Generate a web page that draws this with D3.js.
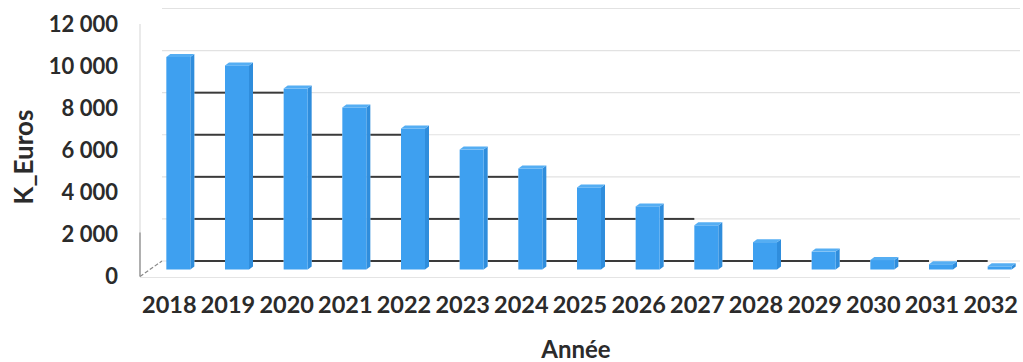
<!DOCTYPE html>
<html><head><meta charset="utf-8">
<script src="https://cdn.jsdelivr.net/npm/d3@7"></script>
<style>
html,body{margin:0;padding:0;background:#fff;}
svg{display:block;}
text{font-family:Lato,"Open Sans",sans-serif;font-weight:bold;fill:#2b2b2b;}
</style></head>
<body>
<svg id="chart" width="1023" height="362"></svg>
<script>
const years = ["2018","2019","2020","2021","2022","2023","2024","2025","2026","2027","2028","2029","2030","2031","2032"];
const values = [10100, 9700, 8600, 7700, 6700, 5700, 4800, 3900, 3000, 2100, 1300, 850, 450, 250, 150];
const yTicks = [0, 2000, 4000, 6000, 8000, 10000, 12000];
const yTickLabels = ["0", "2 000", "4 000", "6 000", "8 000", "10 000", "12 000"];
const yTitle = "K_Euros";
const xTitle = "Année";

const svg = d3.select("#chart");
const x = d3.scaleBand().domain(years).range([140, 1020]).paddingInner(0).paddingOuter(0);
const y = d3.scaleLinear().domain([0, 12000]).range([276.5, 24]);

// 3D offsets
const backDx = 22, backDy = -15.5;
const barDx = 9, barDy = -7;
const barW = 24, sideW = 4, capH = 3;

// floor / axis edges
svg.append("line").attr("x1", 140).attr("x2", 140).attr("y1", y(12000)).attr("y2", y(0))
  .attr("stroke", "#dcdcdc").attr("stroke-width", 1.2);
svg.append("line").attr("x1", 140).attr("x2", 140).attr("y1", y(2000) - 2).attr("y2", y(0))
  .attr("stroke", "#888").attr("stroke-width", 1.2);
svg.append("line").attr("x1", 140).attr("x2", 140 + backDx).attr("y1", y(0)).attr("y2", y(0) + backDy)
  .attr("stroke", "#888").attr("stroke-width", 1.2).attr("stroke-dasharray", "4,2");
svg.append("line").attr("x1", 140).attr("x2", 1010).attr("y1", y(0) + 1).attr("y2", y(0) + 1)
  .attr("stroke", "#e4e4e4").attr("stroke-width", 1.2);

// back wall gridlines (faint)
svg.append("g").selectAll("line").data(yTicks).join("line")
  .attr("x1", 140 + backDx).attr("x2", 1020)
  .attr("y1", d => y(d) + backDy).attr("y2", d => y(d) + backDy)
  .attr("stroke", "#e2e2e2").attr("stroke-width", 1.2);

// darker gridline segments visible in gaps between bars taller than the line
const segs = [];
yTicks.forEach(g => {
  for (let i = 0; i < years.length - 1; i++) {
    if (values[i] > g && values[i + 1] > g) segs.push({g, i});
  }
});
svg.append("g").selectAll("line").data(segs).join("line")
  .attr("x1", d => x(years[d.i]) + x.bandwidth() / 2 + barDx + barW / 2 + sideW)
  .attr("x2", d => x(years[d.i + 1]) + x.bandwidth() / 2 + barDx - barW / 2)
  .attr("y1", d => y(d.g) + backDy).attr("y2", d => y(d.g) + backDy)
  .attr("stroke", "#3a3a3a").attr("stroke-width", 2);

// bars
const bars = svg.append("g").selectAll("g").data(years.map((k, i) => ({k, v: values[i]}))).join("g");
const fx = d => x(d.k) + x.bandwidth() / 2 + barDx - barW / 2;
const barTop = d => y(d.v) + barDy;
const barBot = d => y(0) + barDy;
bars.append("path").attr("fill", "#2f8ddc")
  .attr("d", d => `M${fx(d) + barW},${barTop(d)} L${fx(d) + barW + sideW},${barTop(d) - capH} L${fx(d) + barW + sideW},${barBot(d) - capH} L${fx(d) + barW},${barBot(d)} Z`);
bars.append("rect").attr("fill", "#3ea0f0")
  .attr("x", fx).attr("y", barTop).attr("width", barW).attr("height", d => barBot(d) - barTop(d));
bars.append("path").attr("fill", "#55aef3")
  .attr("d", d => `M${fx(d)},${barTop(d)} L${fx(d) + sideW},${barTop(d) - capH} L${fx(d) + barW + sideW},${barTop(d) - capH} L${fx(d) + barW},${barTop(d)} Z`);

// y axis labels
const yAxis = d3.axisLeft(y).tickValues(yTicks).tickSize(0).tickPadding(0)
  .tickFormat((d, i) => yTickLabels[i]);
const gy = svg.append("g").attr("transform", "translate(118,0)").call(yAxis);
gy.select(".domain").remove();
gy.selectAll("text").attr("font-size", 22).attr("font-family", "Lato").attr("font-weight", "bold").attr("fill", "#262626");

// x axis labels
const xAxis = d3.axisBottom(x).tickSize(0).tickPadding(0);
const gx = svg.append("g").attr("transform", "translate(0,296)").call(xAxis);
gx.select(".domain").remove();
gx.selectAll("text").attr("font-size", 23.5).attr("font-family", "Lato").attr("font-weight", "bold").attr("fill", "#262626");

// titles
svg.append("text").attr("transform", "translate(33,157) rotate(-90)").attr("text-anchor", "middle")
  .attr("font-size", 26).attr("fill", "#262626").text(yTitle);
svg.append("text").attr("x", 576).attr("y", 358).attr("text-anchor", "middle")
  .attr("font-size", 24).attr("fill", "#262626").text(xTitle);
</script>
</body></html>
